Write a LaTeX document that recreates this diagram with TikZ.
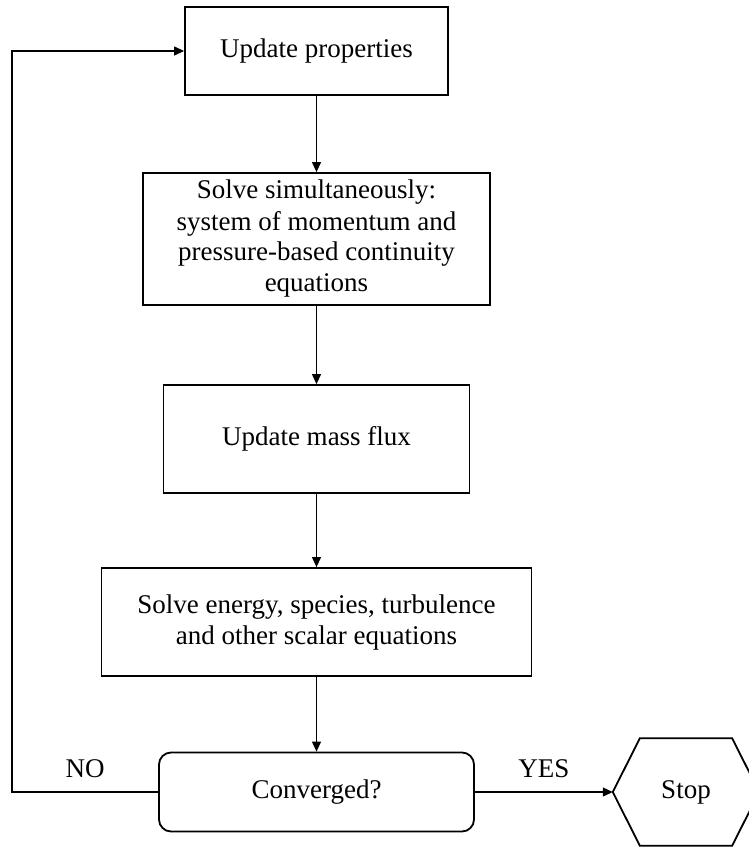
\documentclass[tikz,border=0pt]{standalone}
\usepackage{fontspec}
\setmainfont{Liberation Serif}
\usetikzlibrary{arrows.meta}

\begin{document}
\begin{tikzpicture}[x=1pt,y=-1pt,>={Triangle[length=10pt,width=9pt]},
  box/.style={draw,line width=1.8pt,inner sep=0pt,align=center,font=\fontsize{27}{31}\selectfont},
  flow/.style={->,line width=1.1pt},
  lbl/.style={inner sep=0pt,font=\fontsize{27}{31}\selectfont}]
\useasboundingbox (0,0) rectangle (748,847);
\node[box,minimum width=263pt,minimum height=88pt] (upd) at (316.5,51) {Update properties};
\node[box,minimum width=347pt,minimum height=132pt] (sim) at (316.5,239) {Solve simultaneously:\\ system of momentum and\\ pressure-based continuity\\ equations};
\node[box,minimum width=306pt,minimum height=108pt] (flux) at (316.5,439) {Update mass flux};
\node[box,minimum width=430pt,minimum height=108pt] (scal) at (316.5,622) {Solve energy, species, turbulence\\ and other scalar equations};
\node[box,rounded corners=12pt,minimum width=315pt,minimum height=79pt] (conv) at (316.5,792) {Converged?};
% stop hexagon
\node[lbl,minimum width=146pt,minimum height=107pt] (stop) at (686,792) {Stop};
\draw[line width=1.8pt] (stop.west) -- ([xshift=27pt]stop.north west) -- ([xshift=-27pt]stop.north east)
  -- (stop.east) -- ([xshift=-27pt]stop.south east) -- ([xshift=27pt]stop.south west) -- cycle;
\coordinate (loop) at (12,0);
\draw[flow] (upd) -- (sim);
\draw[flow] (sim) -- (flux);
\draw[flow] (flux) -- (scal);
\draw[flow] (scal) -- (conv);
\draw[flow] (conv.east) -- node[lbl,above=14pt] {YES} (stop.west);
\draw[flow] (conv.west) -- node[lbl,above=14pt] {NO} (conv.west -| loop) |- (upd.west);
\end{tikzpicture}
\end{document}
